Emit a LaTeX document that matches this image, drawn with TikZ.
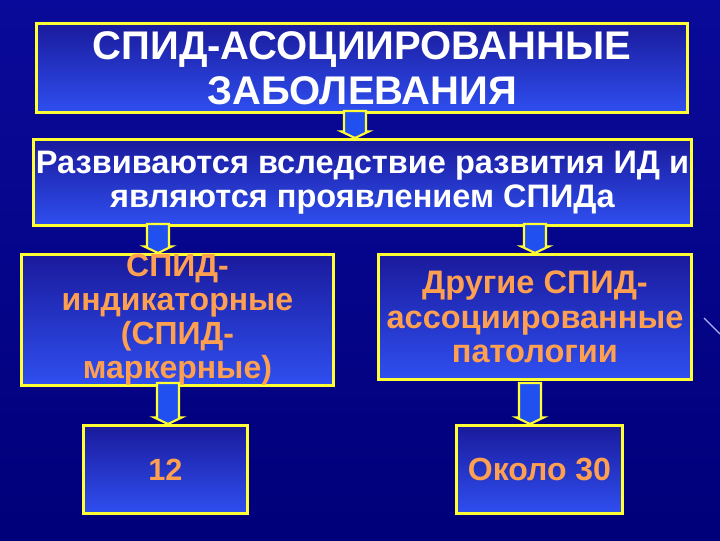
\documentclass[tikz,border=0pt]{standalone}
\usepackage{fontspec}
\setmainfont{Liberation Sans}
\usetikzlibrary{calc}
\definecolor{bgdark}{HTML}{00007A}
\definecolor{bgmid}{HTML}{0A0A9A}
\definecolor{boxtop}{HTML}{1A1A9C}
\definecolor{boxbot}{HTML}{2F4FF0}
\definecolor{yel}{HTML}{FFFF33}
\definecolor{org}{HTML}{FFA050}
\definecolor{arrblue}{HTML}{2050F0}
\tikzset{
  box/.style={draw=yel, line width=2.2pt, top color=boxtop, bottom color=boxbot, minimum width=#1, anchor=north west, align=center, font=\bfseries, inner sep=0pt},
  barrow/.style={draw=yel, line width=1.6pt, fill=arrblue, line join=miter}
}
% block arrow: #1 = top-center coordinate, #2 = tip coordinate
\newcommand{\blockarr}[2]{%
  \draw[barrow] let \p1=#1, \p2=#2 in
    (\x1-8.25pt,\y1) -- (\x1+8.25pt,\y1) -- (\x1+8.25pt,\y2+5pt) -- (\x1+10.5pt,\y2+5pt)
    -- (\x1,\y2) -- (\x1-10.5pt,\y2+5pt) -- (\x1-8.25pt,\y2+5pt) -- cycle;}
\begin{document}
\begin{tikzpicture}[x=0.75pt,y=-0.75pt]
\shade[top color=bgmid,bottom color=bgdark] (0,0) rectangle (720,540);
\useasboundingbox (0,0) rectangle (720,540);
\node[box=651*0.75pt, minimum height=89*0.75pt, text=white, font=\bfseries\fontsize{30}{34}\selectfont] (b1) at (35,22) {СПИД-АСОЦИИРОВАННЫЕ\\ЗАБОЛЕВАНИЯ};
\node[box=658*0.75pt, minimum height=86*0.75pt, text=white, font=\bfseries\fontsize{24.4}{25.5}\selectfont] (b2) at (32,138) {Развиваются вследствие развития ИД и\\являются проявлением СПИДа};
\node[box=312*0.75pt, minimum height=125*0.75pt, text=org, font=\bfseries\fontsize{24}{25.5}\selectfont] (b3) at (20,253) {СПИД-\\индикаторные\\(СПИД-\\маркерные)};
\node[box=313*0.75pt, minimum height=125*0.75pt, text=org, font=\bfseries\fontsize{24.4}{26}\selectfont] (b4) at (377,253) {Другие СПИД-\\ассоциированные\\патологии};
\node[box=164*0.75pt, minimum height=88*0.75pt, text=org, font=\bfseries\fontsize{23}{26}\selectfont] (b5) at (82,424) {12};
\node[box=166*0.75pt, minimum height=88*0.75pt, text=org, font=\bfseries\fontsize{24}{26}\selectfont] (b6) at (455,424) {Около 30};
\blockarr{(355,111)}{(355,138)}
\blockarr{(158,224)}{(158,253)}
\blockarr{(535,224)}{(535,253)}
\blockarr{(168,383)}{(168,424)}
\blockarr{(530,383)}{(530,424)}
\draw[white!70!blue, line width=0.8pt] (704,318) -- (720,334);
\end{tikzpicture}
\end{document}
